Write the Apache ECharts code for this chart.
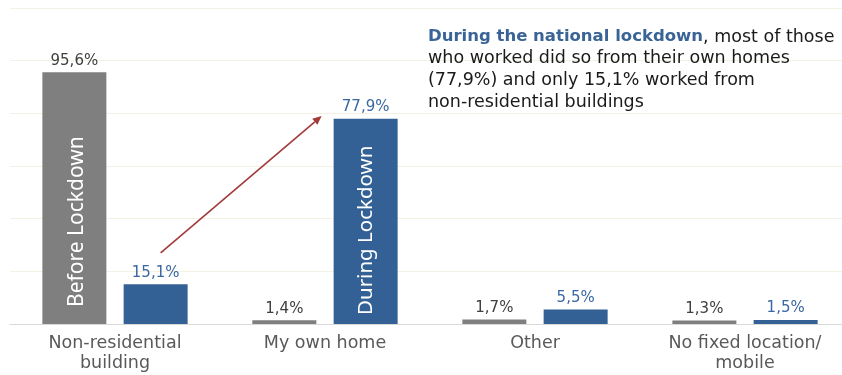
<!DOCTYPE html>
<html>
<head>
<meta charset="utf-8">
<script src="https://cdn.jsdelivr.net/npm/echarts@6/dist/echarts.min.js"></script>
<style>
  html, body { margin: 0; padding: 0; background: #ffffff; overflow: hidden; }
  #chart { width: 850px; height: 375px; }
</style>
</head>
<body>
<div id="chart"></div>
<script>
// Place of work before and during the national lockdown (% of employed)
const categories = ['Non-residential\nbuilding', 'My own home', 'Other', 'No fixed location/\nmobile'];
const beforeValues = [95.6, 1.4, 1.7, 1.3];
const duringValues = [15.1, 77.9, 5.5, 1.5];
const seriesNames = ['Before Lockdown', 'During Lockdown'];
const axisMin = 0, axisMax = 120, axisStep = 20;

const GREY = '#7f7f7f';
const BLUE = '#336195';
const ARROW = '#a33a3a';

const fmt = v => String(v).replace('.', ',') + '%';

const chart = echarts.init(document.getElementById('chart'), null, { renderer: 'canvas' });

chart.setOption({
  animation: false,
  backgroundColor: '#ffffff',
  grid: { left: 10, right: 0, top: 8, bottom: 51, containLabel: false },
  xAxis: {
    type: 'category',
    data: categories,
    axisTick: { show: false },
    axisLine: { lineStyle: { color: '#d9d9d9', width: 1 } },
    axisLabel: {
      interval: 0, margin: 9,
      fontFamily: 'DejaVu Sans', fontSize: 17.5, lineHeight: 20, color: '#595959'
    }
  },
  yAxis: {
    type: 'value', min: axisMin, max: axisMax, interval: axisStep,
    axisLine: { show: false }, axisTick: { show: false }, axisLabel: { show: false },
    splitLine: { lineStyle: { color: '#f3f1e2', width: 1 } }
  },
  series: [
    {
      name: seriesNames[0], type: 'bar', data: beforeValues,
      barWidth: 64, barGap: '27%',
      itemStyle: { color: GREY },
      label: {
        show: true, position: 'top', distance: 4,
        formatter: p => fmt(p.value),
        fontFamily: 'DejaVu Sans', fontSize: 15, color: '#404040'
      }
    },
    {
      name: seriesNames[1], type: 'bar', data: duringValues,
      barWidth: 64, barGap: '27%',
      itemStyle: { color: BLUE },
      label: {
        show: true, position: 'top', distance: 4,
        formatter: p => fmt(p.value),
        fontFamily: 'DejaVu Sans', fontSize: 15, color: '#3a67a3'
      }
    }
  ]
});

// Annotations anchored to the laid-out bars
function barLayout(seriesIndex, dataIndex) {
  return chart.getModel().getSeriesByIndex(seriesIndex).getData().getItemLayout(dataIndex);
}
const yPix = v => chart.convertToPixel({ yAxisIndex: 0 }, v);

const bBefore = barLayout(0, 0);      // largest bar before lockdown
const bDuring = barLayout(1, 1);      // largest bar during lockdown
const bNonRes = barLayout(1, 0);      // non-residential, during lockdown
const baseY = yPix(0);

// arrow from the non-residential share to the home share
const x1 = bNonRes.x + bNonRes.width / 2 + 5, y1 = yPix(27);
const x2 = bDuring.x - 12, y2 = yPix(79);
const ang = Math.atan2(y2 - y1, x2 - x1);
const headLen = 9, headW = 4;
const hx = x2 - headLen * Math.cos(ang), hy = y2 - headLen * Math.sin(ang);
const px = -Math.sin(ang) * headW, py = Math.cos(ang) * headW;

chart.setOption({
  graphic: [
    {
      type: 'text', z: 100, x: bBefore.x + bBefore.width / 2 + 3, y: baseY - 17, rotation: Math.PI / 2,
      style: { text: seriesNames[0], fill: '#ffffff', font: '21px "Noto Sans"', align: 'left', verticalAlign: 'middle' }
    },
    {
      type: 'text', z: 100, x: bDuring.x + bDuring.width / 2 + 1, y: baseY - 9, rotation: Math.PI / 2,
      style: { text: seriesNames[1], fill: '#ffffff', font: '20.5px "Noto Sans"', align: 'left', verticalAlign: 'middle' }
    },
    {
      type: 'line', z: 100,
      shape: { x1: x1, y1: y1, x2: hx, y2: hy },
      style: { stroke: ARROW, lineWidth: 1.6 }
    },
    {
      type: 'polygon', z: 100,
      shape: { points: [[x2, y2], [hx + px, hy + py], [hx - px, hy - py]] },
      style: { fill: ARROW }
    },
    {
      type: 'text', z: 100, left: 428, top: 28,
      style: {
        text: '{b|During the national lockdown}{n|, most of those}\n' +
              '{n|who worked did so from their own homes}\n' +
              '{n|(77,9%) and only 15,1% worked from}\n' +
              '{n|non-residential buildings}',
        rich: {
          b: { fontFamily: 'DejaVu Sans', fontSize: 16.5, fontWeight: 'bold', fill: '#3a6496', lineHeight: 21.7 },
          n: { fontFamily: 'DejaVu Sans', fontSize: 17.5, fill: '#1a1a1a', lineHeight: 21.7 }
        }
      }
    }
  ]
});
</script>
</body>
</html>
